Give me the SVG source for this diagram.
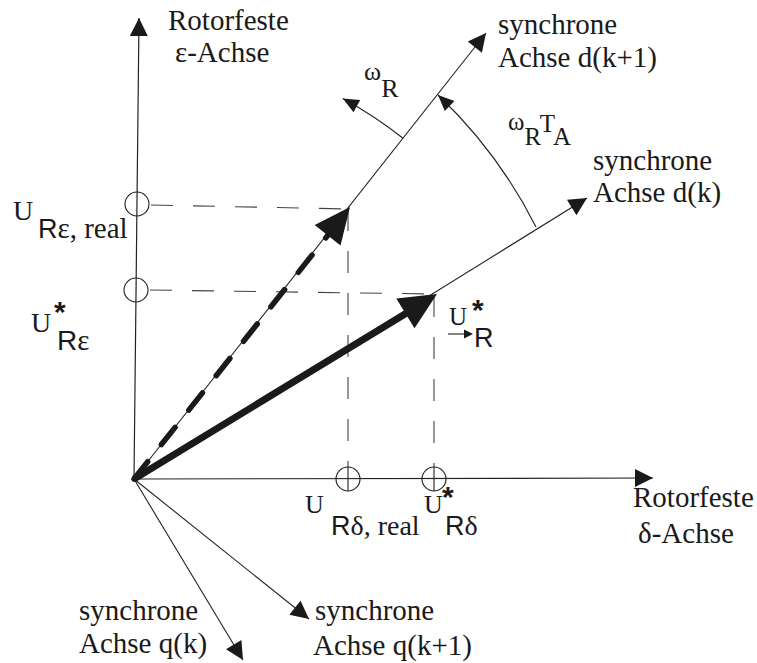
<svg xmlns="http://www.w3.org/2000/svg" width="757" height="663" viewBox="0 0 757 663">
<defs>
<style>
.ax{stroke:#222;stroke-width:1.2;fill:none}
.dash{stroke:#444;stroke-width:1.1;fill:none;stroke-dasharray:22 20}
.circ{stroke:#222;stroke-width:1.1;fill:none}
.thin{stroke:#222;stroke-width:1.1;fill:none}
.head{fill:#1a1a1a;stroke:none}
.t{font-family:"Liberation Serif","Times New Roman",serif;font-size:29px;fill:#1a1a1a}
.s{font-family:"Liberation Sans",Arial,sans-serif}
.st{font-family:"Liberation Sans",Arial,sans-serif;font-weight:bold}
</style>
<marker id="ah" markerUnits="userSpaceOnUse" markerWidth="19" markerHeight="18" refX="18" refY="9" orient="auto" overflow="visible"><path d="M0,0 L18,9 L0,18 z" class="head"/></marker>
<marker id="as" markerUnits="userSpaceOnUse" markerWidth="17" markerHeight="14" refX="16" refY="7" orient="auto" overflow="visible"><path d="M0,0 L16,7 L0,14 z" class="head"/></marker>
</defs>
<rect width="757" height="663" fill="#fff"/>

<g id="connectors">
  <!-- axes -->
  <line class="ax" x1="134" y1="479" x2="139" y2="18" marker-end="url(#ah)"/>
  <line class="ax" x1="134" y1="479" x2="653" y2="478" marker-end="url(#ah)"/>
  <line class="thin" x1="134" y1="479" x2="486" y2="33" marker-end="url(#ah)"/>
  <line class="thin" x1="134" y1="479" x2="587" y2="198" marker-end="url(#ah)"/>
  <line class="thin" x1="134" y1="479" x2="309" y2="619" marker-end="url(#ah)"/>
  <line class="thin" x1="134" y1="479" x2="243" y2="660" marker-end="url(#ah)"/>
  <!-- projection lines -->
  <line class="dash" x1="151" y1="205" x2="348" y2="209"/>
  <line class="dash" x1="150" y1="290" x2="434" y2="294"/>
  <line class="dash" x1="348" y1="209" x2="348" y2="467"/>
  <line class="dash" x1="434" y1="295" x2="434" y2="467"/>
  <line class="thin" x1="348" y1="467" x2="348" y2="491"/>
  <line class="thin" x1="434" y1="467" x2="434" y2="491"/>
  <!-- angle arcs -->
  <path class="thin" d="M403,138.2 A434,434 0 0 0 342.8,98.5" marker-end="url(#as)"/>
  <path class="thin" d="M536,227 A480,480 0 0 0 438,95" marker-end="url(#as)"/>
  <!-- vectors -->
  <line x1="134" y1="479" x2="328" y2="235" stroke="#1a1a1a" stroke-width="5.5" stroke-linecap="round" stroke-dasharray="22 22" fill="none"/>
  <polygon class="head" points="350,207 340.5,245.5 314.7,224.9"/>
  <line x1="134" y1="479" x2="410" y2="311" stroke="#1a1a1a" stroke-width="7" fill="none"/>
  <polygon class="head" points="437,294 414.5,328.2 396.3,298.4"/>
</g>

<g id="markers">
  <circle class="circ" cx="137" cy="204" r="12"/>
  <circle class="circ" cx="136" cy="290" r="12"/>
  <circle class="circ" cx="348" cy="479" r="12"/>
  <circle class="circ" cx="434" cy="479" r="12"/>
</g>

<g id="label-eps-axis">
  <text class="t"><tspan x="168" y="30">Rotorfeste</tspan><tspan x="175" y="62">ε-Achse</tspan></text>
</g>
<g id="label-dk1">
  <text class="t"><tspan x="498" y="34">synchrone</tspan><tspan x="498" y="67">Achse d(k+1)</tspan></text>
</g>
<g id="label-dk">
  <text class="t"><tspan x="593" y="170">synchrone</tspan><tspan x="593" y="202">Achse d(k)</tspan></text>
</g>
<g id="label-omega">
  <text class="t" style="font-size:26px"><tspan x="364" y="80">ω</tspan><tspan dy="17">R</tspan></text>
</g>
<g id="label-omegaTA">
  <text class="t" style="font-size:25px"><tspan x="508" y="130">ω</tspan><tspan dy="15">R</tspan><tspan dy="-13">T</tspan><tspan dy="13">A</tspan></text>
</g>
<g id="label-UReps-real">
  <text class="t"><tspan x="13" y="220" font-size="28">U</tspan><tspan class="s" x="38" y="238" font-size="27">R</tspan><tspan>ε, real</tspan></text>
</g>
<g id="label-UReps-star">
  <text class="t"><tspan x="31" y="332" font-size="28">U</tspan><tspan class="st" x="54" y="322" font-size="30">*</tspan><tspan class="s" x="57" y="350" font-size="28">R</tspan><tspan>ε</tspan></text>
</g>
<g id="label-UR-star">
  <text class="t"><tspan x="449" y="325" font-size="25">U</tspan><tspan class="st" x="472" y="320" font-size="30">*</tspan><tspan class="s" x="474" y="347" font-size="27">R</tspan></text>
  <line class="thin" x1="448" y1="334" x2="466" y2="334"/>
  <polygon class="head" points="464,329.5 473,334 464,338.5"/>
</g>
<g id="label-URdelta-real">
  <text class="t"><tspan x="305" y="513" font-size="26">U</tspan><tspan class="s" x="331" y="535" font-size="27">R</tspan><tspan font-size="28">δ, real</tspan></text>
</g>
<g id="label-URdelta-star">
  <text class="t"><tspan x="424" y="513" font-size="26">U</tspan><tspan class="st" x="442" y="507" font-size="30">*</tspan><tspan class="s" x="445" y="535" font-size="27">R</tspan><tspan font-size="28">δ</tspan></text>
</g>
<g id="label-delta-axis">
  <text class="t"><tspan x="633" y="507">Rotorfeste</tspan><tspan x="638" y="543">δ-Achse</tspan></text>
</g>
<g id="label-qk1">
  <text class="t"><tspan x="315" y="620">synchrone</tspan><tspan x="313" y="655">Achse q(k+1)</tspan></text>
</g>
<g id="label-qk">
  <text class="t"><tspan x="79" y="620">synchrone</tspan><tspan x="79" y="653">Achse q(k)</tspan></text>
</g>
</svg>
